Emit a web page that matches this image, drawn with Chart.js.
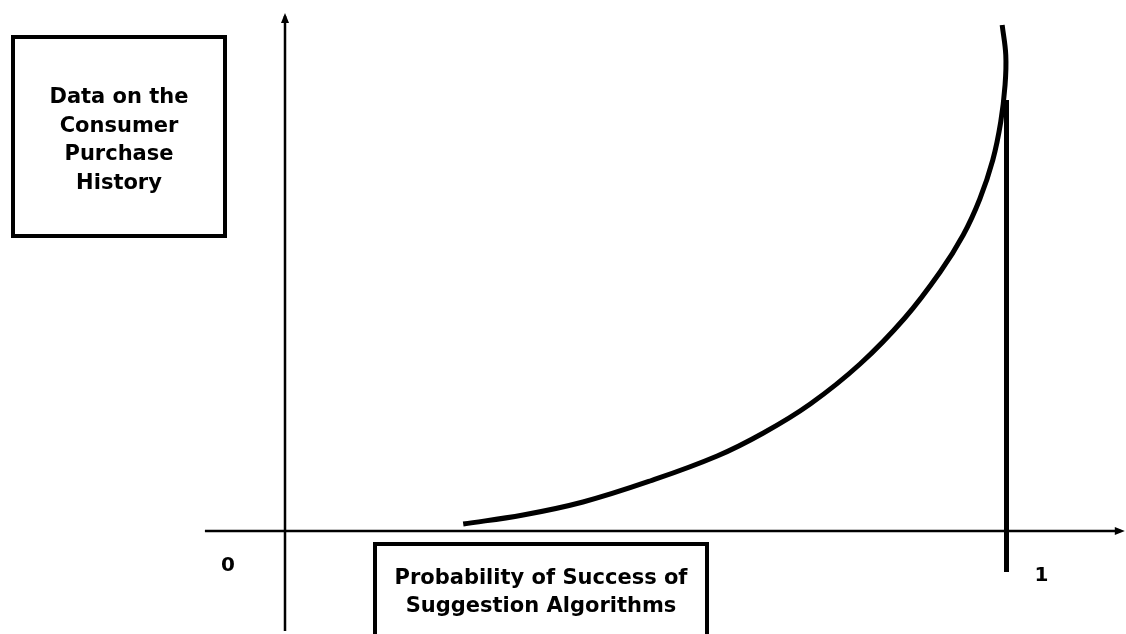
<!DOCTYPE html>
<html>
<head>
<meta charset="utf-8">
<script src="https://cdn.jsdelivr.net/npm/chart.js@4/dist/chart.umd.min.js"></script>
<style>
  body { margin: 0; background: #fff; }
  #wrap { width: 1126px; height: 634px; position: relative; }
</style>
</head>
<body>
<div id="wrap"><canvas id="curveChart"></canvas></div>
<script>
// curve (x: probability 0..1, y: data amount)
const curveX = [0.247, 0.330, 0.413, 0.506, 0.599, 0.663, 0.728, 0.797, 0.859, 0.908, 0.940, 0.963, 0.981, 0.992, 0.998, 0.999, 0.994];
const curveY = [0.014, 0.032, 0.058, 0.100, 0.150, 0.196, 0.254, 0.334, 0.426, 0.518, 0.592, 0.664, 0.742, 0.818, 0.892, 0.952, 1.012];
const tickLabels = ['0', '1'];
const tickValues = [0, 1];
const yTitle = ['Data on the', 'Consumer', 'Purchase', 'History'];
const xTitle = ['Probability of Success of', 'Suggestion Algorithms'];

const FONT = 'bold 21px "DejaVu Sans"';

// boxes, text and arrow heads
const decorPlugin = {
  id: 'decor',
  afterDatasetsDraw(chart) {
    const ctx = chart.ctx;
    const xs = chart.scales.x, ys = chart.scales.y;
    ctx.save();
    ctx.fillStyle = '#000';
    ctx.strokeStyle = '#000';

    // arrow heads
    const ax = xs.getPixelForValue(0), ay = ys.getPixelForValue(1.036);
    ctx.beginPath();
    ctx.moveTo(ax, ay); ctx.lineTo(ax - 4, ay + 10); ctx.lineTo(ax + 4, ay + 10);
    ctx.closePath(); ctx.fill();
    const bx = xs.getPixelForValue(1.164), by = ys.getPixelForValue(0);
    ctx.beginPath();
    ctx.moveTo(bx, by); ctx.lineTo(bx - 10, by - 4); ctx.lineTo(bx - 10, by + 4);
    ctx.closePath(); ctx.fill();

    // y title box
    ctx.lineWidth = 4;
    ctx.strokeRect(13, 37, 212, 199);
    ctx.font = FONT;
    ctx.textAlign = 'center';
    ctx.textBaseline = 'middle';
    yTitle.forEach((t, i) => ctx.fillText(t, 119, 98 + i * 28.5));

    // x title box
    ctx.strokeRect(375, 544, 332, 100);
    xTitle.forEach((t, i) => ctx.fillText(t, 541, 579 + i * 28));

    // tick labels
    ctx.font = 'bold 20px "DejaVu Sans"';
    ctx.fillText(tickLabels[0], xs.getPixelForValue(tickValues[0]) - 57, ys.getPixelForValue(0) + 35);
    ctx.fillText(tickLabels[1], xs.getPixelForValue(tickValues[1]) + 35, ys.getPixelForValue(0) + 45);
    ctx.restore();
  }
};

const line = (pts, w) => ({
  data: pts,
  showLine: true,
  borderColor: '#000',
  borderWidth: w,
  pointRadius: 0,
  tension: 0,
  clip: false
});

const ctx1 = document.getElementById('curveChart');
new Chart(ctx1, {
  type: 'scatter',
  data: {
    datasets: [
      Object.assign(line(curveX.map((x, i) => ({ x: x, y: curveY[i] })), 5), { tension: 0.4, borderCapStyle: 'butt' }),
      line([{ x: 0, y: -0.2 }, { x: 0, y: 1.03 }], 2.5),
      line([{ x: -0.111, y: 0 }, { x: 1.158, y: 0 }], 2.5),
      line([{ x: 1, y: -0.082 }, { x: 1, y: 0.862 }], 5)
    ]
  },
  options: {
    responsive: true,
    maintainAspectRatio: false,
    animation: false,
    layout: { padding: 0 },
    plugins: {
      legend: { display: false },
      tooltip: { enabled: false }
    },
    scales: {
      x: { type: 'linear', display: false, min: -285 / 721.5, max: (1126 - 285) / 721.5 },
      y: { type: 'linear', display: false, min: -(634 - 531) / 500, max: 531 / 500 }
    }
  },
  plugins: [decorPlugin]
});
</script>
</body>
</html>
